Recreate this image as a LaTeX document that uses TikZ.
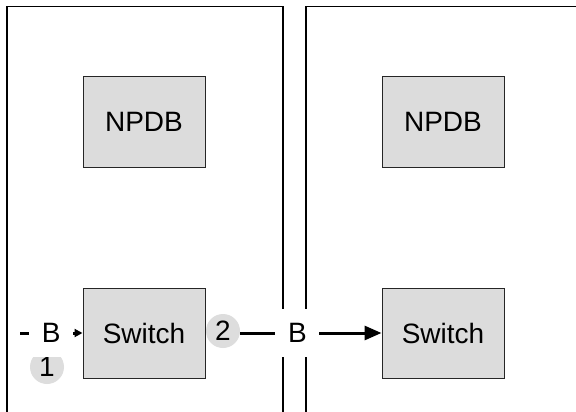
\documentclass[tikz,border=0pt]{standalone}
\usepackage{fontspec}
\setmainfont{Liberation Sans}
\usetikzlibrary{arrows.meta}
\definecolor{boxgray}{HTML}{DCDCDC}
\definecolor{circgray}{HTML}{DDDDDD}
\definecolor{edgec}{HTML}{262626}
\tikzset{
  box/.style={draw=edgec, line width=1pt, fill=boxgray, minimum width=122pt, minimum height=90pt, inner sep=0pt, font=\fontsize{28}{34}\selectfont},
  badge/.style={circle, fill=circgray, minimum size=34pt, inner sep=0pt, font=\fontsize{28}{34}\selectfont},
  panel/.style={draw=black, line width=1.4pt},
  conn/.style={line width=3pt},
  lbl/.style={fill=white, inner sep=0pt, minimum width=44pt, minimum height=48pt, font=\fontsize{28}{34}\selectfont}
}
\begin{document}
\begin{tikzpicture}[x=1pt,y=-1pt]
\useasboundingbox (0,0) rectangle (576,412);
% panels
\draw[panel] (7,412) -- (7,6.6) -- (283,6.6) -- (283,412);
\draw[panel] (306,412) -- (306,6.6) -- (576,6.6);
% nodes
\node[box] (npdb1) at (144,122) {NPDB};
\node[box] (npdb2) at (443,122) {NPDB};
\node[box] (sw1) at (144,333) {Switch};
\node[box] (sw2) at (443,333) {Switch};
\node[badge] (c1) at (47,367) {1};
\node[badge] (c2) at (223,331) {2};
% connectors
\coordinate (in) at (20,333);
\draw[conn, -{Triangle[length=8pt,width=8pt]}] (in) -- node[lbl, pos=0.5] (b1) {B} (sw1.west);
\draw[conn, -{Triangle[length=17pt,width=14pt]}] (c2.east |- sw2.west) -- node[lbl, pos=0.405] (b2) {B} (sw2.west);
\end{tikzpicture}
\end{document}
